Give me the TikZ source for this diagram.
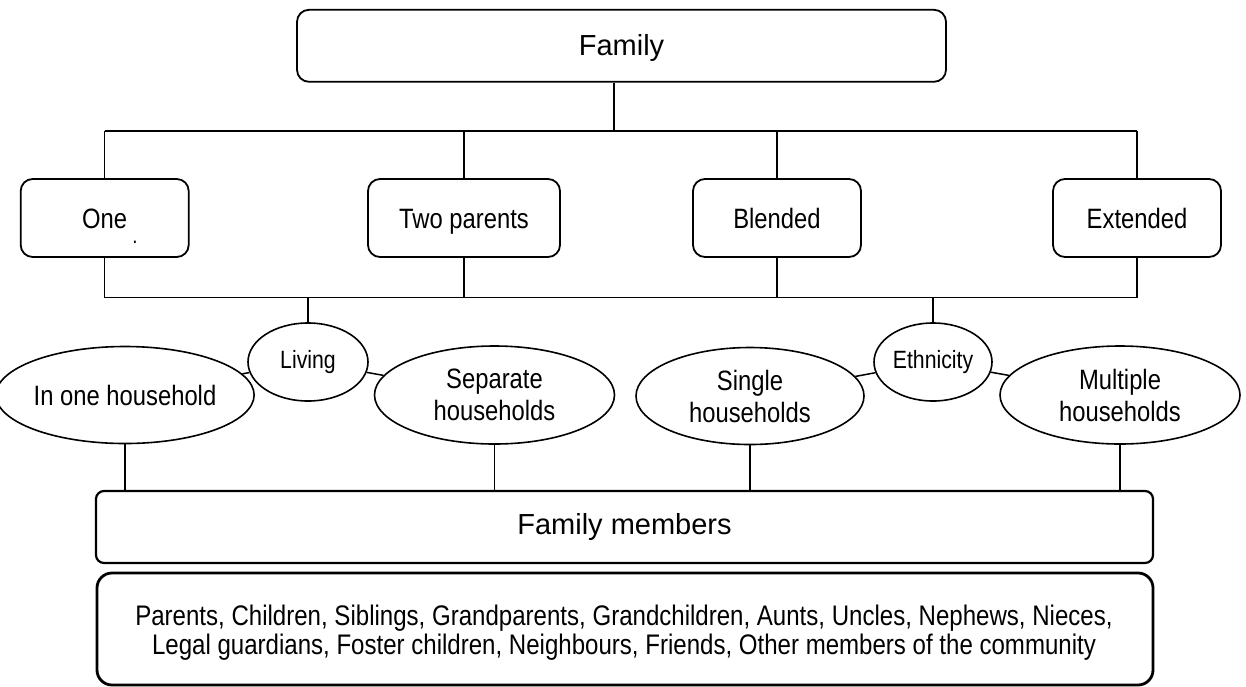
\documentclass[tikz,border=0pt]{standalone}
\usepackage{fontspec}
\setmainfont{Liberation Sans}
\newfontfamily\narrowfont[FakeStretch=0.85]{Liberation Sans}
\usetikzlibrary{shapes.geometric}
\begin{document}
\begin{tikzpicture}[x=1pt,y=-1pt,
  rbox/.style={draw, line width=1.8pt, rounded corners=12pt, inner sep=0pt, align=center, text height=20pt, text depth=0pt},
  ell/.style={draw, ellipse, line width=1.6pt, inner sep=0pt, align=center},
  conn/.style={line width=1.5pt},
  bigtxt/.style={font=\fontsize{29}{31}\selectfont},
  nartxt/.style={font=\fontsize{28}{32}\narrowfont},
  smalltxt/.style={font=\fontsize{25}{28}\narrowfont}]
\useasboundingbox (0,0) rectangle (1246,686);
% top
\node[rbox, bigtxt, minimum width=649pt, minimum height=72pt] (fam) at (621.5,45.8) {Family};
\coordinate (t1) at (614,131);
\node[rbox, nartxt, minimum width=168pt, minimum height=78pt] (one) at (104.7,218) {One};
\node[font=\fontsize{22}{22}\narrowfont, inner sep=0pt] (dot) at (135,242) {.};
\node[rbox, nartxt, minimum width=192pt, minimum height=78pt] (two) at (464,218) {Two parents};
\node[rbox, nartxt, minimum width=168pt, minimum height=78pt] (blend) at (777,218) {Blended};
\node[rbox, nartxt, minimum width=168pt, minimum height=78pt] (ext) at (1137,218) {Extended};
\coordinate (b1) at (308,297.5);
\coordinate (b2) at (933,297.5);
% top connectors
\draw[conn] (fam.south -| t1) -- (t1);
\draw[conn] (one.north |- t1) -- (ext.north |- t1);
\draw[conn] (one.north) -- (one.north |- t1);
\draw[conn] (two.north) -- (two.north |- t1);
\draw[conn] (blend.north) -- (blend.north |- t1);
\draw[conn] (ext.north) -- (ext.north |- t1);
% lower bar
\draw[conn] (one.south |- b1) -- (ext.south |- b1);
\draw[conn] (one.south) -- (one.south |- b1);
\draw[conn] (two.south) -- (two.south |- b1);
\draw[conn] (blend.south) -- (blend.south |- b1);
\draw[conn] (ext.south) -- (ext.south |- b1);
% ellipses
\node[ell, smalltxt, minimum width=120pt, minimum height=78pt] (living) at (308,362) {Living};
\node[ell, smalltxt, minimum width=118pt, minimum height=78pt] (eth) at (933,362) {Ethnicity};
\node[ell, nartxt, minimum width=228pt, minimum height=97pt] (inone) at (125,395) {In one household};
\node[ell, nartxt, minimum width=240pt, minimum height=98pt] (sep) at (494.5,395) {Separate\\households};
\node[ell, nartxt, minimum width=228pt, minimum height=97pt] (single) at (750,396) {Single\\households};
\node[ell, nartxt, minimum width=240pt, minimum height=98pt] (multi) at (1120,395) {Multiple\\households};
\draw[conn] (b1) -- (living.north);
\draw[conn] (b2) -- (eth.north);
\draw[conn] (living) -- (inone);
\draw[conn] (living) -- (sep);
\draw[conn] (eth) -- (single);
\draw[conn] (eth) -- (multi);
% members
\node[draw, line width=2.2pt, rounded corners=8pt, inner sep=0pt, bigtxt, minimum width=1057pt, minimum height=72pt] (mem) at (624.5,527) {Family members};
\draw[conn] (inone.south) -- (inone.south |- mem.north);
\draw[conn] (sep.south) -- (sep.south |- mem.north);
\draw[conn] (single.south) -- (single.south |- mem.north);
\draw[conn] (multi.south) -- (multi.south |- mem.north);
\node[draw, line width=2.8pt, rounded corners=15pt, inner sep=0pt, align=center, font=\fontsize{28.3}{29}\narrowfont, minimum width=1056pt, minimum height=112pt] (list) at (625,629) {};
\node[align=center, inner sep=0pt, font=\fontsize{28.3}{29}\narrowfont] (listtxt) at (624,633) {Parents, Children, Siblings, Grandparents, Grandchildren, Aunts, Uncles, Nephews, Nieces,\\Legal guardians, Foster children, Neighbours, Friends, Other members of the community};
\end{tikzpicture}
\end{document}
